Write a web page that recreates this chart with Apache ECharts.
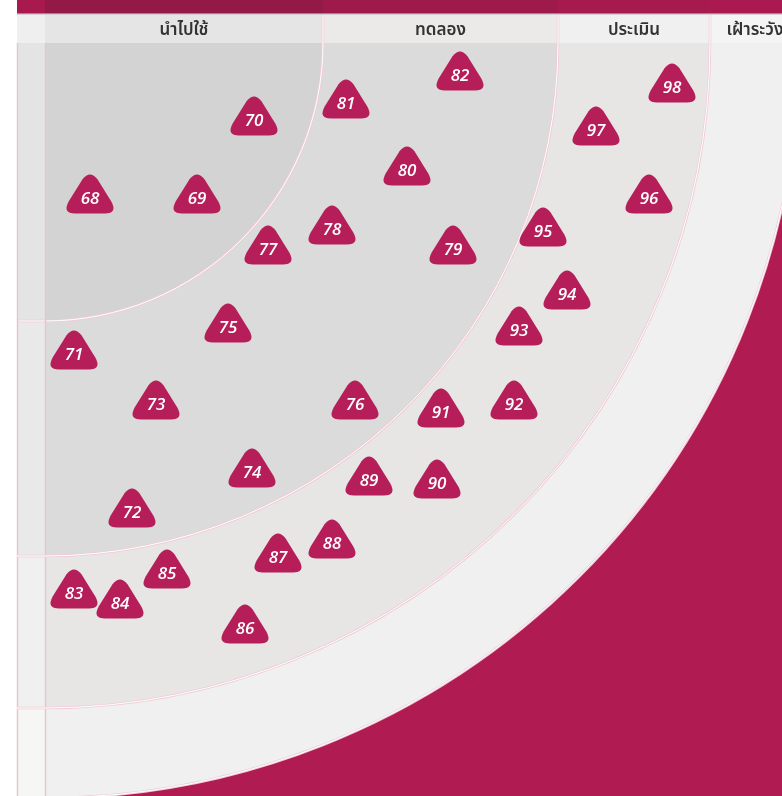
<!DOCTYPE html>
<html><head><meta charset="utf-8">
<script src="https://cdn.jsdelivr.net/npm/echarts@6/dist/echarts.min.js"></script>
<style>html,body{margin:0;padding:0;background:#fff;overflow:hidden}#c{width:782px;height:796px}</style>
</head><body><div id="c"></div><script>
// Ring names and outer radii (radar units, centre of radar = 0,0)
const ringNames = ['นำไปใช้', 'ทดลอง', 'ประเมิน', 'เฝ้าระวัง'];
const ringRadii = [278, 513, 665, 755];
const ringFills = ['#d3d3d3', '#dbdbdb', '#e7e6e5', '#f0f0f0'];
const headerFills = ['#e5e5e5', '#ebeae9', '#f0f0f0', '#f4f4f4'];
const stripFills = ['#e4e4e4', '#e9e9e9', '#f0f0f0', '#f6f6f5'];
const bandFills = ['#931a47', '#9d1a4b', '#a61a4d', '#aa1a50'];

// Blips: id, x (right from centre), y (down from centre)
const blipIds = [68, 69, 70, 71, 72, 73, 74, 75, 76, 77, 78, 79, 80, 81, 82,
                 83, 84, 85, 86, 87, 88, 89, 90, 91, 92, 93, 94, 95, 96, 97, 98];
const blipX = [45, 152, 209, 29, 87, 111, 207, 183, 310, 223, 287, 408, 362, 301, 415,
               29, 75, 122, 200, 233, 287, 324, 392, 396, 469, 474, 522, 498, 604, 551, 627];
const blipY = [156, 156, 78, 312, 470, 362, 430, 285, 362, 207, 187, 207, 128, 61, 33,
               551, 561, 531, 586, 515, 501, 438, 441, 370, 362, 288, 252, 189, 156, 88, 45];

const PINK = '#efccd8';
const MAGENTA = '#b01c52';
const BLIP = '#b51e59';
const TRI = 'path://M35,12 Q50,-9 65,12 L93,60 Q106,86 80,86 L20,86 Q-6,86 7,60 Z';

function dbl(shapeType, shape) {
  return [
    { type: shapeType, shape: shape, style: { stroke: PINK, lineWidth: 2.6, fill: null } },
    { type: shapeType, shape: shape, style: { stroke: '#ffffff', lineWidth: 1, fill: null } }
  ];
}

function bgItem(params, api) {
  const c = api.coord([0, 0]);
  const br = api.coord([737, 753]);
  const top = api.coord([0, -43])[1];
  const hTop = api.coord([0, -28])[1];
  const left = api.coord([-28, 0])[0];
  return {
    type: 'group',
    children: [
      { type: 'rect', shape: { x: c[0], y: c[1], width: br[0] - c[0], height: br[1] - c[1] }, style: { fill: MAGENTA } },
      { type: 'rect', shape: { x: left, y: top, width: br[0] - left, height: hTop - top }, style: { fill: '#d6d2d4' } },
      { type: 'rect', shape: { x: left, y: top, width: c[0] - left, height: hTop - top - 1.5 }, style: { fill: '#a81a4e' } },
      { type: 'rect', shape: { x: left, y: hTop, width: c[0] - left, height: c[1] - hTop }, style: { fill: '#efefef' } }
    ]
  };
}

function ringItem(params, api) {
  const i = api.value(0);
  const r = ringRadii[i], r0 = i ? ringRadii[i - 1] : 0;
  const c = api.coord([0, 0]);
  const rp = api.coord([r, 0])[0] - c[0];
  const rp0 = api.coord([r0, 0])[0] - c[0];
  const top = api.coord([0, -43])[1];
  const hTop = api.coord([0, -28])[1];
  const left = api.coord([-28, 0])[0];
  return {
    type: 'group',
    children: [
      { type: 'sector', shape: { cx: c[0], cy: c[1], r: rp, r0: rp0, startAngle: 0, endAngle: Math.PI / 2, clockwise: true }, style: { fill: ringFills[i] } },
      { type: 'rect', shape: { x: c[0] + rp0, y: top, width: rp - rp0, height: hTop - top - 1.5 }, style: { fill: bandFills[i] } },
      { type: 'rect', shape: { x: c[0] + rp0, y: hTop, width: rp - rp0, height: c[1] - hTop }, style: { fill: headerFills[i] } },
      { type: 'rect', shape: { x: left, y: c[1] + rp0, width: c[0] - left, height: rp - rp0 }, style: { fill: stripFills[i] } },
      { type: 'text', style: { text: ringNames[i], x: c[0] + (rp0 + rp) / 2, y: (hTop + c[1]) / 2 + 1, align: 'center', verticalAlign: 'middle', fill: '#333333', fontSize: 17, fontWeight: 600, fontFamily: '"Noto Sans", "Noto Sans Thai", sans-serif' } }
    ]
  };
}

function lineItem(params, api) {
  const i = api.value(0);
  const r = ringRadii[i];
  const c = api.coord([0, 0]);
  const rp = api.coord([r, 0])[0] - c[0];
  const hTop = api.coord([0, -28])[1];
  const left = api.coord([-28, 0])[0];
  let ch = [];
  ch = ch.concat(dbl('arc', { cx: c[0], cy: c[1], r: rp, startAngle: 0, endAngle: Math.PI / 2, clockwise: true }));
  ch = ch.concat(dbl('line', { x1: c[0] + rp, y1: hTop, x2: c[0] + rp, y2: c[1] }));
  ch = ch.concat(dbl('line', { x1: left, y1: c[1] + rp, x2: c[0], y2: c[1] + rp }));
  if (i === 0) {
    const bottom = api.coord([0, 753])[1];
    ch.push({ type: 'line', shape: { x1: c[0] + 0.5, y1: c[1], x2: c[0] + 0.5, y2: bottom }, style: { stroke: '#e6c5d1', lineWidth: 1.5 } });
    ch.push({ type: 'line', shape: { x1: left + 0.5, y1: c[1], x2: left + 0.5, y2: bottom }, style: { stroke: '#e6c5d1', lineWidth: 1.5 } });
  }
  return { type: 'group', children: ch };
}

const chart = echarts.init(document.getElementById('c'), null, { renderer: 'canvas' });
chart.setOption({
  animation: false,
  backgroundColor: '#ffffff',
  grid: { left: 0, right: 0, top: 0, bottom: 0 },
  xAxis: { type: 'value', min: -45, max: 737, show: false },
  yAxis: { type: 'value', min: -43, max: 753, inverse: true, show: false },
  series: [
    { type: 'custom', z: 1, silent: true, clip: false, renderItem: bgItem, data: [[0, 0]] },
    { type: 'custom', z: 2, silent: true, clip: false, renderItem: ringItem, data: ringRadii.map((r, i) => [i, r]) },
    { type: 'custom', z: 3, silent: true, clip: false, renderItem: lineItem, data: ringRadii.map((r, i) => [i, r]) },
    {
      type: 'scatter', z: 5,
      symbol: TRI, symbolSize: [47, 39], symbolOffset: [0, -5],
      itemStyle: { color: BLIP, opacity: 1 },
      label: {
        show: true, position: 'inside', offset: [0, 5], color: '#ffffff',
        fontSize: 17, fontStyle: 'italic', fontWeight: 600, fontFamily: '"Open Sans", sans-serif',
        formatter: p => String(p.value[2])
      },
      data: blipIds.map((id, i) => [blipX[i], blipY[i], id])
    }
  ]
});
</script></body></html>
